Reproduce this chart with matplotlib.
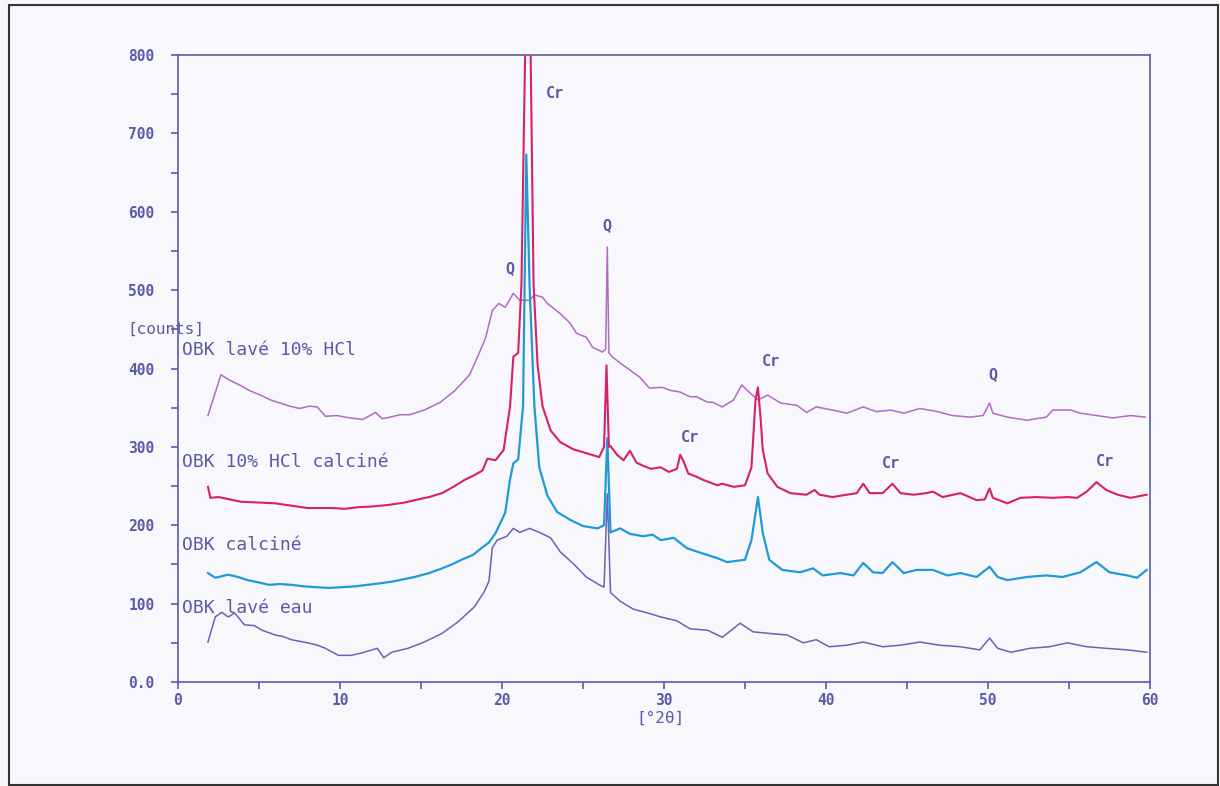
import matplotlib
matplotlib.use("Agg")
import matplotlib.pyplot as plt
from matplotlib.patches import Rectangle
from matplotlib.ticker import MultipleLocator, FixedLocator

plt.rcParams['font.family'] = ['DejaVu Sans Mono']

x_hcl = [1.85, 2.65, 3.2, 3.8, 4.4, 5.1, 5.7, 6.3, 6.9, 7.5, 8.1, 8.6, 9.1, 9.8, 10.6, 11.4, 12.2, 12.6,
         13.1, 13.7, 14.3, 15.2, 15.7, 16.2, 17.1, 18.0, 18.6, 19.0, 19.4, 19.8, 20.2, 20.7, 21.1, 21.7,
         22.0, 22.5, 22.8, 23.6, 24.2, 24.6, 25.2, 25.6, 26.2, 26.4, 26.5, 26.6, 26.8, 27.3, 27.9, 28.5,
         29.1, 29.9, 30.4, 31.0, 31.6, 32.0, 32.7, 33.0, 33.6, 34.3, 34.8, 35.3, 35.8, 36.4, 37.2, 38.2,
         38.8, 39.4, 40.4, 41.3, 42.3, 43.1, 44.0, 44.8, 45.8, 46.9, 47.8, 48.9, 49.7, 50.1, 50.3, 51.2,
         52.4, 53.6, 54.0, 55.1, 55.7, 56.7, 57.7, 58.8, 59.7]
y_hcl = [340, 392, 385, 379, 372, 366, 360, 356, 352, 349, 352, 351, 339, 340, 337, 335, 344, 336,
         338, 341, 341, 347, 352, 357, 372, 392, 420, 440, 474, 483, 478, 496, 487, 487,
         494, 491, 483, 470, 458, 445, 440, 427, 421, 425, 555, 420, 415, 407, 398, 389,
         375, 376, 372, 370, 364, 364, 357, 357, 351, 360, 379, 369, 360, 366, 356, 353,
         344, 351, 347, 343, 351, 345, 347, 343, 349, 345, 340, 338, 340, 356, 343, 338,
         334, 338, 347, 347, 343, 340, 337, 340, 338]

x_hcl_calc = [1.85, 2.0, 2.5, 3.2, 3.9, 5.0, 6.0, 7.0, 8.0, 9.5, 10.3, 11.1, 12.0, 13.0, 14.0, 14.6,
              15.5, 16.3, 17.0, 17.7, 18.3, 18.8, 19.1, 19.6, 20.1, 20.5, 20.7, 21.0, 21.2, 21.45,
              21.75, 21.95, 22.2, 22.5, 23.0, 23.6, 24.4, 25.2, 26.0, 26.3, 26.45, 26.6, 26.7, 27.1,
              27.5, 27.9, 28.3, 28.7, 29.2, 29.8, 30.3, 30.8, 31.0, 31.2, 31.5, 32.0, 32.4, 33.3,
              33.6, 34.3, 35.0, 35.4, 35.65, 35.8, 35.95, 36.1, 36.4, 37.0, 37.8, 38.8, 39.3, 39.6,
              40.4, 41.3, 41.9, 42.3, 42.7, 43.5, 44.1, 44.6, 45.4, 46.2, 46.6, 47.2, 48.3, 49.3,
              49.8, 50.1, 50.3, 51.2, 52.0, 53.0, 54.0, 54.9, 55.5, 56.1, 56.7, 57.3, 58.0, 58.8, 59.8]
y_hcl_calc = [249, 235, 236, 233, 230, 229, 228, 225, 222, 222, 221, 223, 224, 226, 229, 232,
              236, 241, 249, 258, 264, 270, 285, 283, 296, 352, 415, 420, 507, 830,
              830, 507, 404, 352, 321, 306, 297, 292, 287, 300, 404, 300, 301, 290,
              283, 295, 280, 276, 272, 274, 268, 272, 290, 282, 266, 262, 258, 251,
              253, 249, 251, 274, 360, 376, 340, 296, 266, 249, 241, 239, 245, 239,
              236, 239, 241, 253, 241, 241, 253, 241, 239, 241, 243, 236, 241, 232,
              233, 247, 235, 228, 235, 236, 235, 236, 235, 243, 255, 245, 239, 235, 239]

x_calc = [1.85, 2.3, 3.1, 3.7, 4.3, 5.0, 5.6, 6.3, 7.0, 7.8, 8.5, 9.3, 10.1, 10.9, 11.7, 12.5, 13.2,
          13.9, 14.6, 15.5, 16.3, 16.9, 17.5, 18.2, 18.8, 19.2, 19.6, 20.2, 20.5, 20.7, 21.0, 21.3,
          21.5, 21.7, 22.0, 22.3, 22.8, 23.4, 24.2, 25.0, 25.9, 26.3, 26.5, 26.7, 27.3, 27.9, 28.7,
          29.3, 29.8, 30.6, 31.4, 31.8, 32.4, 33.3, 33.9, 35.0, 35.4, 35.8, 36.1, 36.5, 37.3, 38.4,
          39.2, 39.8, 40.9, 41.7, 42.3, 42.9, 43.5, 44.1, 44.8, 45.6, 46.6, 47.5, 48.3, 49.3, 50.1,
          50.6, 51.2, 52.4, 53.6, 54.6, 55.7, 56.7, 57.5, 58.6, 59.2, 59.8]
y_calc = [139, 133, 137, 134, 130, 127, 124, 125, 124, 122, 121, 120, 121, 122, 124, 126, 128,
          131, 134, 139, 145, 150, 156, 162, 172, 178, 190, 216, 259, 279, 284, 352,
          673, 507, 352, 274, 238, 217, 207, 199, 196, 200, 311, 191, 196, 189, 186,
          188, 181, 184, 171, 168, 164, 158, 153, 156, 181, 236, 190, 156, 143, 140,
          145, 136, 139, 136, 152, 140, 139, 153, 139, 143, 143, 136, 139, 134, 147,
          134, 130, 134, 136, 134, 140, 153, 140, 136, 133, 143]

x_eau = [1.85, 2.3, 2.7, 3.1, 3.5, 4.1, 4.7, 5.2, 6.0, 6.5, 7.0, 8.0, 8.6, 9.1, 9.9, 10.7, 11.5, 12.3,
         12.7, 13.2, 14.2, 15.2, 16.3, 17.3, 18.3, 18.9, 19.2, 19.4, 19.7, 20.3, 20.7, 21.1, 21.7,
         22.3, 23.0, 23.6, 24.4, 25.2, 26.0, 26.3, 26.5, 26.7, 27.3, 28.1, 29.0, 29.8, 30.8, 31.6,
         32.7, 33.6, 34.7, 35.5, 36.5, 37.6, 38.6, 39.4, 40.2, 41.3, 42.3, 43.5, 44.6, 45.8, 47.0,
         48.3, 49.5, 50.1, 50.6, 51.4, 52.6, 53.8, 54.9, 56.1, 57.3, 58.6, 59.8]
y_eau = [51, 83, 89, 83, 88, 73, 72, 66, 60, 58, 54, 50, 47, 43, 34, 34, 38, 43,
         31, 38, 43, 51, 62, 77, 96, 115, 129, 171, 181, 186, 196, 191, 196,
         191, 184, 166, 151, 134, 124, 121, 240, 114, 103, 93, 88, 83, 78, 68,
         66, 57, 75, 64, 62, 60, 50, 54, 45, 47, 51, 45, 47, 51, 47,
         45, 41, 56, 43, 38, 43, 45, 50, 45, 43, 41, 38]

series_labels = ["OBK lavé 10% HCl", "OBK 10% HCl calciné", "OBK calciné", "OBK lavé eau"]
label_pos = [(0.25, 423), (0.25, 281), (0.25, 175), (0.25, 94)]

peak_names = ["Cr", "Q", "Q", "Cr", "Q", "Cr", "Cr", "Cr"]
peak_pos = [(23.3, 751), (20.5, 528), (26.5, 583), (36.6, 409), (50.3, 392), (31.6, 312), (44.0, 279), (57.2, 281)]

yticks = [0, 100, 200, 300, 400, 500, 600, 700, 800]
ytick_labels = ["0.0", "100", "200", "300", "400", "500", "600", "700", "800"]
xticks = [0, 10, 20, 30, 40, 50, 60]

ink = '#5b5aa8'
bg = '#f8f8fc'

fig = plt.figure(figsize=(12.2, 7.86), dpi=100, facecolor=bg)
ax = fig.add_axes([0.1459, 0.1323, 0.7967, 0.7977])
ax.set_facecolor(bg)

ax.plot(x_hcl, y_hcl, color='#b06cc0', lw=1.1)
ax.plot(x_eau, y_eau, color='#6a62b8', lw=1.1)
ax.plot(x_calc, y_calc, color='#1f9ad6', lw=1.6)
ax.plot(x_hcl_calc, y_hcl_calc, color='#d81f6c', lw=1.5)

ax.set_xlim(0, 60)
ax.set_ylim(0, 800)

ax.xaxis.set_major_locator(FixedLocator(xticks))
ax.xaxis.set_minor_locator(MultipleLocator(5))
ax.yaxis.set_major_locator(FixedLocator(yticks))
ax.yaxis.set_minor_locator(MultipleLocator(50))
ax.set_yticklabels(ytick_labels)
ax.tick_params(which='both', direction='out', colors=ink, labelcolor=ink, labelsize=10.5, width=1.2)
ax.tick_params(which='both', length=5)
ax.tick_params(axis='x', pad=3)
ax.tick_params(axis='y', pad=12)
for lbl in ax.get_xticklabels() + ax.get_yticklabels():
    lbl.set_fontweight('bold')
for s in ax.spines.values():
    s.set_color(ink)
    s.set_linewidth(1.2)

for name, (tx, ty) in zip(series_labels, label_pos):
    ax.text(tx, ty, name, color=ink, fontsize=13, ha='left', va='center')
for name, (tx, ty) in zip(peak_names, peak_pos):
    ax.text(tx, ty, name, color=ink, fontsize=11, ha='center', va='center', fontweight='bold')

ax.text(-3.1, 450, "[counts]", color=ink, fontsize=11.5, ha='left', va='center', clip_on=False)
ax.text(29.8, -46, "[°2θ]", color=ink, fontsize=11.5, ha='center', va='center', clip_on=False)

fig.patches.append(Rectangle((0.007, 0.001), 0.991, 0.993, transform=fig.transFigure,
                             fill=False, edgecolor='#333333', lw=1.5))

fig.savefig("out.png", dpi=100, facecolor=bg)
